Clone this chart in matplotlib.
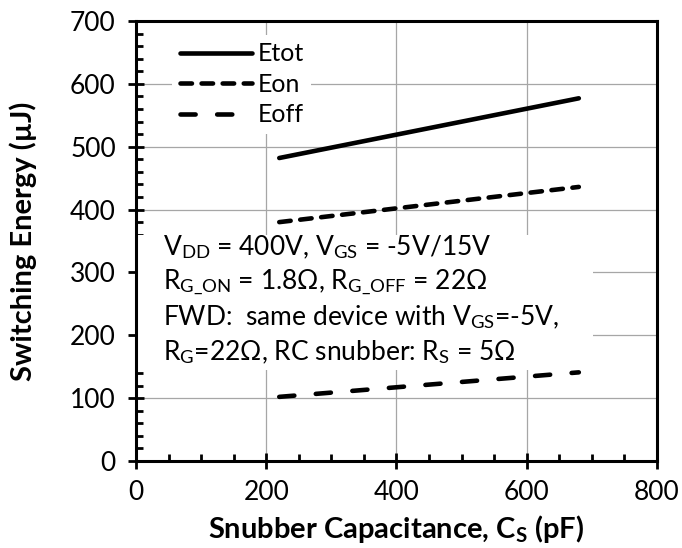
import matplotlib
matplotlib.use('Agg')
import matplotlib.pyplot as plt
from matplotlib.patches import Rectangle
from matplotlib.ticker import MultipleLocator

# --- data ---
cap_pf = [220, 680]
e_tot = [482, 577]
e_on = [380, 436]
e_off = [102, 141]

x_ticks = [0, 200, 400, 600, 800]
y_ticks = [0, 100, 200, 300, 400, 500, 600, 700]

cond_lines = [
    r"V$_{\mathrm{DD}}$ = 400V, V$_{\mathrm{GS}}$ = -5V/15V",
    r"R$_{\mathrm{G\_ON}}$ = 1.8Ω, R$_{\mathrm{G\_OFF}}$ = 22Ω",
    r"FWD:  same device with V$_{\mathrm{GS}}$=-5V,",
    r"R$_{\mathrm{G}}$=22Ω, RC snubber: R$_{\mathrm{S}}$ = 5Ω",
]

plt.rcParams['font.family'] = ['Lato', 'DejaVu Sans']
plt.rcParams['mathtext.fontset'] = 'custom'
plt.rcParams['mathtext.rm'] = 'Lato'
plt.rcParams['mathtext.it'] = 'Lato:italic'
plt.rcParams['mathtext.bf'] = 'Lato:bold'

fig = plt.figure(figsize=(6.82, 5.48), dpi=100)
ax = fig.add_axes([0.1994, 0.1588, 0.7639, 0.8029])

LW = 3.3
ax.plot(cap_pf, e_tot, color='black', lw=LW, solid_capstyle='round', label='Etot', zorder=4)
ax.plot(cap_pf, e_on, color='black', lw=LW, dashes=(2.5, 2.1), dash_capstyle='round',
        label='Eon', zorder=4)
ax.plot(cap_pf, e_off, color='black', lw=LW, dashes=(3.3, 4.7), dash_capstyle='round',
        label='Eoff', zorder=4)

ax.set_xlim(0, 800)
ax.set_ylim(0, 700)
ax.set_xticks(x_ticks)
ax.set_yticks(y_ticks)
ax.xaxis.set_minor_locator(MultipleLocator(50))
ax.yaxis.set_minor_locator(MultipleLocator(20))
ax.grid(True, which='major', color='#a6a6a6', lw=0.9, zorder=0)
ax.set_axisbelow(True)

ax.tick_params(which='major', direction='inout', length=11, width=2, labelsize=19)
ax.tick_params(axis='x', which='major', pad=8)
ax.tick_params(axis='y', which='major', pad=9)
ax.tick_params(which='minor', direction='in', length=5, width=2)
for sp in ax.spines.values():
    sp.set_linewidth(2.2)

ax.set_xlabel(r"Snubber Capacitance, C$_{\mathbf{S}}$ (pF)", fontsize=21,
              fontweight='bold', labelpad=6)
ax.set_ylabel("Switching Energy (µJ)", fontsize=21, fontweight='bold', labelpad=24)

# white box behind the test conditions
ax.add_patch(Rectangle((0.004, 0.207), 0.873, 0.307, transform=ax.transAxes,
                       facecolor='white', edgecolor='none', zorder=2))
for i, line in enumerate(cond_lines):
    ax.text(0.052, 0.486 - i * 0.0793, line, transform=ax.transAxes,
            fontsize=19, va='center', ha='left', zorder=3)

leg = ax.legend(loc='upper left', bbox_to_anchor=(0.046, 0.997),
                prop={'family': ['Lato', 'DejaVu Sans'], 'size': 18},
                handlelength=2.9, handletextpad=0.2, labelspacing=0.3,
                borderpad=0.3, frameon=True, fancybox=False, framealpha=1,
                edgecolor='none', facecolor='white')

fig.savefig('out.png', dpi=100)
